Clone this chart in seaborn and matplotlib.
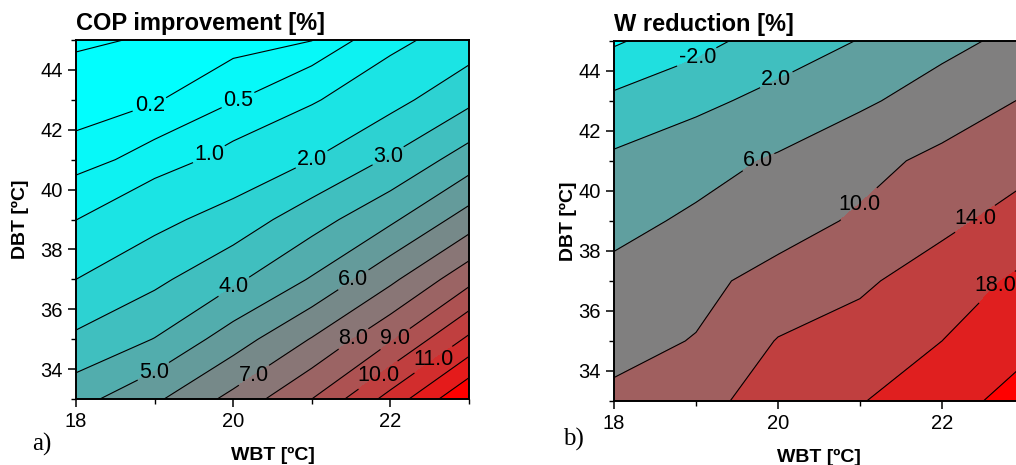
import numpy as np
import matplotlib
matplotlib.use("Agg")
import matplotlib.pyplot as plt
import seaborn as sns
from matplotlib.colors import Normalize
from matplotlib.ticker import MultipleLocator

# ---------------- data ----------------
wbt = [18, 19, 20, 21, 22, 23]            # WBT [ºC] grid (x)
dbt = [33, 35, 37, 39, 41, 43, 45]        # DBT [ºC] grid (y)

# COP improvement [%]  rows: DBT 33 ... 45, cols: WBT 18 ... 23
cop_improvement = [
    [4.64, 5.82, 7.30, 9.00, 11.38, 14.00],
    [3.18, 4.03, 5.51, 7.06, 8.87, 11.19],
    [2.00, 2.77, 3.79, 5.09, 6.78, 8.69],
    [0.99, 1.72, 2.41, 3.57, 4.81, 6.46],
    [0.33, 0.67, 1.24, 1.99, 3.12, 4.50],
    [0.06, 0.17, 0.47, 0.91, 1.66, 2.77],
    [-0.015, 0.01, 0.08, 0.19, 0.77, 1.45],
]

# W reduction [%]
w_reduction = [
    [10.64, 13.0, 15.4, 17.77, 20.57, 23.4],
    [9.0, 10.15, 14.2, 15.6, 18.0, 21.1],
    [7.08, 9.1, 11.18, 13.33, 16.0, 18.8],
    [4.88, 6.64, 8.5, 10.5, 13.0, 15.7],
    [2.74, 4.56, 6.48, 8.78, 10.94, 12.8],
    [-1.07, 1.05, 3.19, 5.37, 7.76, 10.25],
    [-6.55, -3.3, -0.13, 2.14, 4.9, 7.1],
]

cop_line_levels = [0, 0.2, 0.5, 1, 2, 3, 4, 5, 6, 7, 8, 9, 10, 11, 12, 13]
cop_fill_levels = [-1] + cop_line_levels + [15]
cop_label_levels = [0.2, 0.5, 1, 2, 3, 4, 5, 6, 7, 8, 9, 10, 11]

w_line_levels = [-6, -2, 2, 6, 10, 14, 18, 22]
w_fill_levels = [-10] + w_line_levels + [26]
w_label_levels = [-2, 2, 6, 10, 14, 18]

# label anchor positions (layout)
cop_label_pos = [(18.99, 42.43), (20.06, 43.0), (19.73, 41.0), (21.0, 41.0),
                 (22.0, 41.0), (19.98, 36.88), (18.99, 33.9), (21.53, 36.98),
                 (20.28, 33.73), (21.54, 34.97), (22.07, 34.97), (21.87, 33.7),
                 (22.55, 34.3)]
w_label_pos = [(19.01, 44.45), (20.0, 43.58), (19.76, 40.96), (21.0, 39.52),
               (22.43, 38.96), (22.61, 36.96)]

# ---------------- style ----------------
sns.set_theme(style="ticks")
plt.rcParams['font.family'] = ['Liberation Sans', 'DejaVu Sans']
plt.rcParams['axes.linewidth'] = 1.4
plt.rcParams['axes.edgecolor'] = 'black'
plt.rcParams['contour.negative_linestyle'] = 'solid'

cmap = sns.blend_palette(["#00FFFF", "#808080", "#FF0000"], as_cmap=True)

W, H = 1016, 465
fig = plt.figure(figsize=(W / 100, H / 100), dpi=100)
ax1 = fig.add_axes([76 / W, 1 - 399 / H, 393 / W, 359 / H])
ax2 = fig.add_axes([614 / W, 1 - 401 / H, 410 / W, 360.3 / H])


def draw(ax, grid, fill_levels, line_levels, norm, label_levels, label_pos,
         title, ylabelpad):
    X, Y = np.meshgrid(wbt, dbt)
    Z = np.array(grid, dtype=float)
    ax.contourf(X, Y, Z, levels=fill_levels, cmap=cmap, norm=norm)
    plain = [lv for lv in line_levels if lv not in label_levels]
    if plain:
        ax.contour(X, Y, Z, levels=plain, colors='black', linewidths=0.8,
                   linestyles='solid')
    cs = ax.contour(X, Y, Z, levels=label_levels, colors='black',
                    linewidths=0.8, linestyles='solid')
    texts = ax.clabel(cs, fmt='%.1f', fontsize=15.5,
                      inline=True, inline_spacing=3, manual=label_pos)
    for t in texts:
        t.set_rotation(0)
        t.set_color('black')
    ax.set_xlim(18, 23)
    ax.set_ylim(33, 45)
    ax.xaxis.set_major_locator(MultipleLocator(2))
    ax.xaxis.set_minor_locator(MultipleLocator(1))
    ax.yaxis.set_major_locator(MultipleLocator(2))
    ax.yaxis.set_minor_locator(MultipleLocator(1))
    ax.tick_params(which='major', direction='out', length=6, width=1.1,
                   labelsize=14.5, color='black', labelcolor='black')
    ax.tick_params(which='minor', direction='out', length=3.5, width=1.0,
                   color='black')
    ax.set_title(title, loc='left', fontsize=17, fontweight='bold', pad=7,
                 color='black')
    ax.set_xlabel("WBT [ºC]", fontsize=14, fontweight='bold', labelpad=11,
                  color='black')
    ax.set_ylabel("DBT [ºC]", fontsize=14, fontweight='bold',
                  labelpad=ylabelpad, color='black')
    for s in ax.spines.values():
        s.set_visible(True)
        s.set_color('black')


draw(ax1, cop_improvement, cop_fill_levels, cop_line_levels,
     Normalize(vmin=0, vmax=14), cop_label_levels, cop_label_pos,
     "COP improvement [%]", 8)
draw(ax2, w_reduction, w_fill_levels, w_line_levels,
     Normalize(vmin=-8, vmax=24), w_label_levels, w_label_pos,
     "W reduction [%]", 1)

fig.text(32 / W, 1 - 444 / H, "a)", family=['Liberation Serif'],
         fontsize=18, ha='left', va='center', color='black')
fig.text(563 / W, 1 - 439 / H, "b)", family=['Liberation Serif'],
         fontsize=18, ha='left', va='center', color='black')

fig.savefig("out.png", dpi=100)
